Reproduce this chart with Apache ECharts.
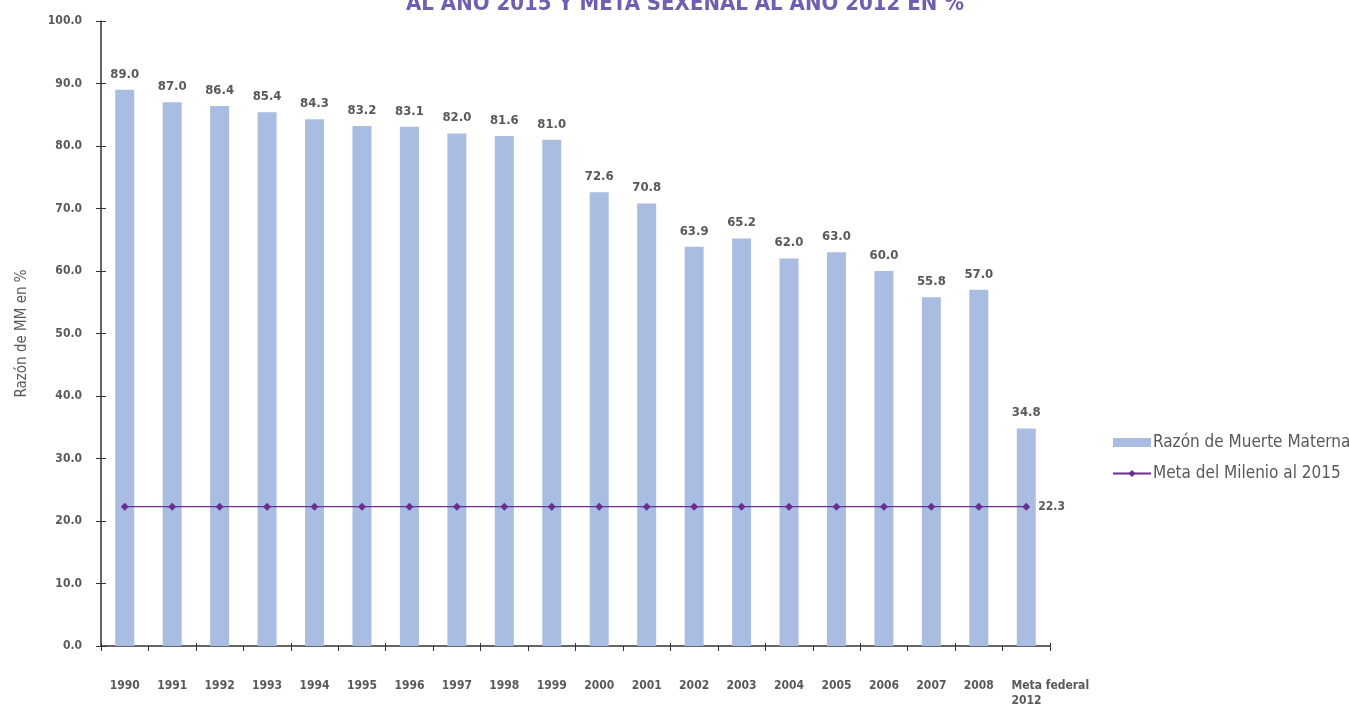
<!DOCTYPE html>
<html><head><meta charset="utf-8">
<script src="https://cdn.jsdelivr.net/npm/echarts@6/dist/echarts.min.js"></script>
<style>html,body{margin:0;padding:0;background:#fff}#c{width:1349px;height:704px}</style>
</head><body><div id="c"></div>
<script>
const categories = ['1990','1991','1992','1993','1994','1995','1996','1997','1998','1999','2000','2001','2002','2003','2004','2005','2006','2007','2008','Meta federal\n2012'];
const razonMM = [89.0,87.0,86.4,85.4,84.3,83.2,83.1,82.0,81.6,81.0,72.6,70.8,63.9,65.2,62.0,63.0,60.0,55.8,57.0,34.8];
const metaMilenio = [22.3,22.3,22.3,22.3,22.3,22.3,22.3,22.3,22.3,22.3,22.3,22.3,22.3,22.3,22.3,22.3,22.3,22.3,22.3,22.3];
const yTicks = [0,10,20,30,40,50,60,70,80,90,100];
const titleText = 'AL AÑO 2015 Y META SEXENAL AL AÑO 2012 EN %';
const yName = 'Razón de MM en %';

const FONT = "'Liberation Sans Narrow','DejaVu Sans Condensed','Noto Sans',sans-serif";
const GRAY = '#595959';
const chart = echarts.init(document.getElementById('c'));
chart.setOption({
  animation: false,
  title: {
    text: titleText, left: 680, textAlign: 'center', top: -12,
    textStyle: {color: '#6f5fb0', fontSize: 22, fontWeight: 'bold', fontFamily: FONT}
  },
  grid: {left: 101, top: 21, right: 299, bottom: 58, outerBoundsMode: 'none', containLabel: false},
  legend: {
    orient: 'vertical', left: 1107, top: 429, itemGap: 14,
    itemWidth: 38, itemHeight: 9,
    textStyle: {color: GRAY, fontSize: 17, fontFamily: FONT, padding: [0,0,0,-3]},
    data: [
      {name: 'Razón de Muerte Materna', icon: 'rect'},
      {name: 'Meta del Milenio al 2015'}
    ]
  },
  xAxis: [{
    type: 'category', data: categories,
    axisLine: {lineStyle: {color: '#333', width: 1.5}},
    axisTick: {show: true, length: 5, lineStyle: {color: '#333'}},
    axisLabel: {color: GRAY, fontSize: 12, fontWeight: 'bold', fontFamily: FONT, margin: 32, interval: 0, lineHeight: 15,
      formatter: v => v.indexOf('\n') >= 0 ? '{a|' + v + '}' : v,
      rich: {a: {align: 'left', color: GRAY, fontSize: 12, fontWeight: 'bold', fontFamily: FONT, lineHeight: 15, padding: [0,0,0,48]}}
    }
  }, {
    type: 'category', data: categories, position: 'bottom',
    axisLine: {show: false}, axisLabel: {show: false},
    axisTick: {show: true, inside: true, length: 3, lineStyle: {color: '#333'}}
  }],
  yAxis: [{
    type: 'value', min: 0, max: 100, interval: 10,
    name: yName, nameLocation: 'middle', nameGap: 71, nameRotate: 90,
    nameTextStyle: {color: GRAY, fontSize: 15, fontFamily: FONT},
    axisLine: {show: true, lineStyle: {color: '#333', width: 1.5}},
    axisTick: {show: true, length: 5, lineStyle: {color: '#333'}},
    splitLine: {show: false},
    axisLabel: {color: GRAY, fontSize: 12, fontWeight: 'bold', fontFamily: FONT, margin: 19,
      formatter: v => yTicks.indexOf(v) >= 0 ? v.toFixed(1) : ''}
  }, {
    type: 'value', min: 0, max: 100, interval: 10, position: 'left',
    axisLine: {show: false}, axisLabel: {show: false}, splitLine: {show: false},
    axisTick: {show: true, inside: true, length: 5, lineStyle: {color: '#333'}}
  }],
  series: [
    {
      name: 'Razón de Muerte Materna', type: 'bar', data: razonMM, barWidth: 19,
      itemStyle: {color: '#a9bde3'},
      label: {show: true, position: 'top', distance: 9, color: GRAY, fontSize: 13, fontWeight: 'bold', fontFamily: FONT,
        formatter: p => p.value.toFixed(1)}
    },
    {
      name: 'Meta del Milenio al 2015', type: 'line', data: metaMilenio,
      symbol: 'diamond', symbolSize: 8, z: 5,
      lineStyle: {color: '#6b2d8f', width: 1.2},
      itemStyle: {color: '#6b2d8f'},
      label: {show: true, position: 'right', distance: 8, color: GRAY, fontSize: 12, fontWeight: 'bold', fontFamily: FONT,
        formatter: p => p.dataIndex === metaMilenio.length - 1 ? p.value.toFixed(1) : ''}
    }
  ]
});
</script></body></html>
